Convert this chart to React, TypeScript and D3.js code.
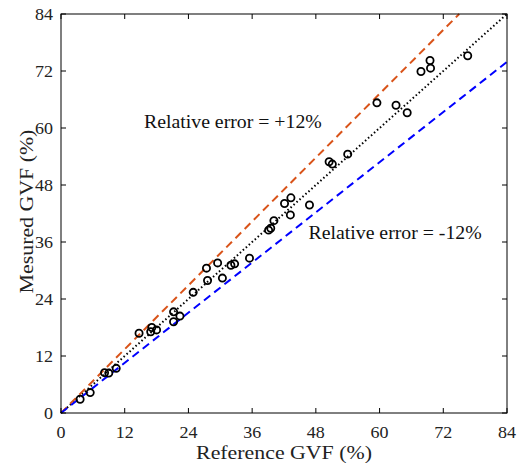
import React from "react";
import * as d3 from "d3";

// reference GVF (%) vs measured GVF (%)
const refGVF = [3.6, 5.5, 8.2, 9.0, 10.4, 14.7, 16.9, 17.1, 18.0, 21.2, 21.2, 22.4, 24.9, 27.4, 27.6,
  29.5, 30.4, 32.0, 32.7, 35.5, 39.1, 39.5, 40.1, 42.1, 43.3, 43.2, 46.8, 50.5, 51.1, 54.0,
  59.5, 63.1, 65.2, 67.8, 69.5, 69.6, 76.6];
const measGVF = [2.9, 4.3, 8.5, 8.4, 9.4, 16.8, 17.1, 18.0, 17.5, 21.3, 19.2, 20.4, 25.4, 30.5, 27.9,
  31.6, 28.4, 31.1, 31.4, 32.6, 38.5, 38.9, 40.5, 44.1, 45.3, 41.7, 43.8, 52.9, 52.4, 54.5,
  65.3, 64.8, 63.2, 71.9, 74.2, 72.6, 75.2];
const ticks = [0, 12, 24, 36, 48, 60, 72, 84];
const errorBands = [
  { factor: 1.12, color: "#D95319", label: "Relative error = +12%" },
  { factor: 0.88, color: "#0000FF", label: "Relative error = -12%" },
];

const W = 517, H = 470;
const left = 61, right = 507, top = 14, bottom = 413;
const font = "'Liberation Serif', 'Times New Roman', serif";

export default function App() {
  const x = d3.scaleLinear().domain([0, 84]).range([left, right]);
  const y = d3.scaleLinear().domain([0, 84]).range([bottom, top]);
  const line = d3.line<[number, number]>().x(d => x(d[0])).y(d => y(d[1]));

  const bandPts = (f: number): [number, number][] => {
    const xEnd = Math.min(84, 84 / f);
    return [[0, 0], [xEnd, xEnd * f]];
  };

  const tl = 5;
  return (
    <svg width={W} height={H} style={{ position: "absolute", left: 0, top: 0 }}>
      <rect width={W} height={H} fill="#fff" />
      {/* reference lines */}
      <path d={line([[0, 0], [84, 84]]) || ""} stroke="#000" strokeWidth={2} strokeDasharray="1.5 2.5" fill="none" />
      {errorBands.map(b => (
        <path key={b.label} d={line(bandPts(b.factor)) || ""} stroke={b.color} strokeWidth={2} strokeDasharray="8 5" fill="none" />
      ))}
      {/* points */}
      {refGVF.map((r, i) => (
        <circle key={i} cx={x(r)} cy={y(measGVF[i])} r={3.6} fill="none" stroke="#000" strokeWidth={1.8} />
      ))}
      {/* box */}
      <rect x={left} y={top} width={right - left} height={bottom - top} fill="none" stroke="#000" strokeWidth={1} />
      {ticks.map(t => (
        <g key={t} stroke="#000" strokeWidth={1}>
          <line x1={x(t)} x2={x(t)} y1={bottom} y2={bottom - tl} />
          <line x1={x(t)} x2={x(t)} y1={top} y2={top + tl} />
          <line x1={left} x2={left + tl} y1={y(t)} y2={y(t)} />
          <line x1={right} x2={right - tl} y1={y(t)} y2={y(t)} />
        </g>
      ))}
      {ticks.map(t => (
        <text key={"x" + t} transform={`translate(${x(t)},${bottom + 25}) scale(1.06,1)`} textAnchor="middle" fontFamily={font} fontSize={17} fill="#222">{t}</text>
      ))}
      {ticks.map(t => (
        <text key={"y" + t} transform={`translate(${left - 8},${y(t) + 6}) scale(1.06,1)`} textAnchor="end" fontFamily={font} fontSize={17} fill="#222">{t}</text>
      ))}
      <text transform="translate(284,459) scale(1.15,1)" textAnchor="middle" fontFamily={font} fontSize={19} fill="#222">Reference GVF (%)</text>
      <text transform="translate(33,211.5) rotate(-90) scale(1.15,1)" textAnchor="middle" fontFamily={font} fontSize={19} fill="#222">Mesured GVF (%)</text>
      <text x={144} y={127.5} fontFamily={font} fontSize={19.8} fill="#111">{errorBands[0].label}</text>
      <text x={308.5} y={239} fontFamily={font} fontSize={19.8} fill="#111">{errorBands[1].label}</text>
    </svg>
  );
}
